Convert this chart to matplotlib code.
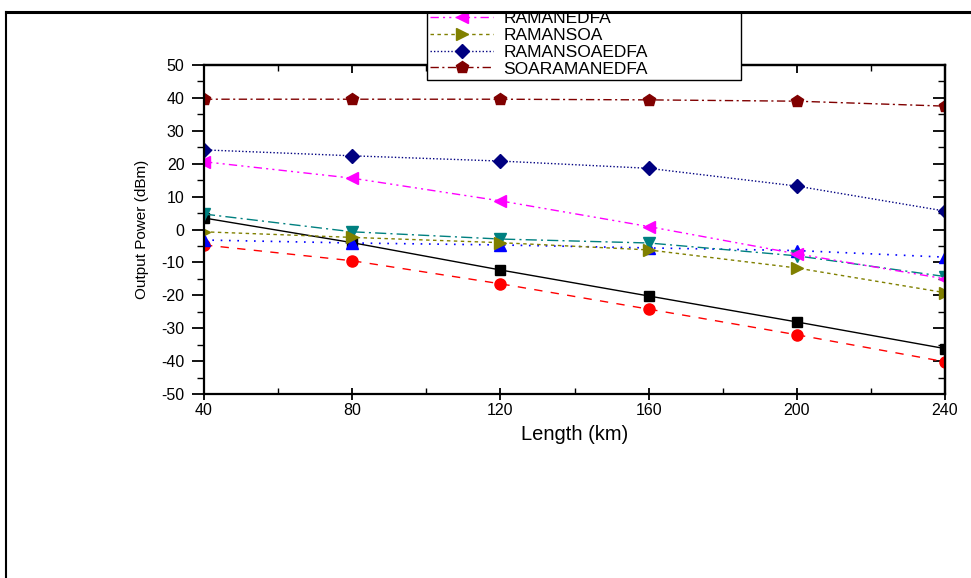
import matplotlib
matplotlib.use("Agg")
import matplotlib.pyplot as plt
from matplotlib.lines import Line2D
from matplotlib.patches import Rectangle
from matplotlib.ticker import MultipleLocator

plt.rcParams['font.family'] = ['Liberation Sans', 'DejaVu Sans']
plt.rcParams['axes.unicode_minus'] = False

length_km = [40, 80, 120, 160, 200, 240]

black_sq = [3.5, -4.0, -12.3, -20.2, -28.1, -36.2]
red_circ = [-4.7, -9.5, -16.5, -24.2, -32.0, -40.2]
blue_up = [-3.2, -4.1, -4.7, -5.6, -6.4, -8.4]
teal_down = [4.7, -0.7, -2.9, -4.1, -8.0, -14.3]
ramanedfa = [20.6, 15.6, 8.7, 0.9, -7.4, -15.0]
ramansoa = [-0.7, -2.4, -4.0, -6.2, -11.7, -19.2]
ramansoaedfa = [24.2, 22.4, 20.8, 18.6, 13.2, 5.6]
soaramanedfa = [39.6, 39.6, 39.6, 39.4, 39.0, 37.5]

legend_labels = ["RAMANEDFA", "RAMANSOA", "RAMANSOAEDFA", "SOARAMANEDFA"]

fig = plt.figure(figsize=(9.71, 5.78), dpi=100)
ax = fig.add_axes([204/971, 1-394/578, 741/971, 329/578])

ms = 8
ax.plot(length_km, black_sq, color='black', ls='-', lw=1.0, marker='s', ms=7, mec='black')
ax.plot(length_km, red_circ, color='red', ls=(0, (6, 6)), lw=1.0, marker='o', ms=ms)
ax.plot(length_km, blue_up, color='blue', ls=(0, (1, 4)), lw=1.2, marker='^', ms=ms)
ax.plot(length_km, teal_down, color='#008080', ls=(0, (8, 3, 1.5, 3)), lw=1.0, marker='v', ms=ms)
l1, = ax.plot(length_km, ramanedfa, color='magenta', ls=(0, (6, 3, 1.5, 3, 1.5, 3)), lw=1.0, marker='<', ms=ms, label=legend_labels[0])
l2, = ax.plot(length_km, ramansoa, color='#808000', ls=(0, (2.5, 2.5)), lw=1.0, marker='>', ms=ms, label=legend_labels[1])
l3, = ax.plot(length_km, ramansoaedfa, color='#000080', ls=(0, (1, 1.5)), lw=1.0, marker='D', ms=7, label=legend_labels[2])
l4, = ax.plot(length_km, soaramanedfa, color='#800000', ls=(0, (6, 2.5, 1.5, 2.5)), lw=1.0, marker='p', ms=9, label=legend_labels[3])

ax.set_xlim(40, 240)
ax.set_ylim(-50, 50)
ax.xaxis.set_major_locator(MultipleLocator(40))
ax.xaxis.set_minor_locator(MultipleLocator(20))
ax.yaxis.set_major_locator(MultipleLocator(10))
ax.yaxis.set_minor_locator(MultipleLocator(5))

for s in ax.spines.values():
    s.set_linewidth(1.6)

ax.tick_params(axis='both', which='major', labelsize=11.5, width=1.3)
ax.tick_params(axis='both', which='minor', width=1.0)
ax.tick_params(axis='y', which='major', direction='out', length=9, pad=5, left=True, right=False)
ax.tick_params(axis='y', which='minor', direction='out', length=5, left=True, right=False)
ax.tick_params(axis='x', which='major', direction='inout', length=9, pad=2, top=False)
ax.tick_params(axis='x', which='minor', direction='in', length=4, top=False)

secx = ax.secondary_xaxis('top')
secx.xaxis.set_major_locator(MultipleLocator(40))
secx.xaxis.set_minor_locator(MultipleLocator(20))
secx.tick_params(which='major', direction='in', length=6, labeltop=False, width=1.3)
secx.tick_params(which='minor', direction='in', length=4, width=1.0)
secx.spines['top'].set_linewidth(1.6)
secy = ax.secondary_yaxis('right')
secy.yaxis.set_major_locator(MultipleLocator(10))
secy.yaxis.set_minor_locator(MultipleLocator(5))
secy.tick_params(which='major', direction='in', length=9, labelright=False, width=1.3)
secy.tick_params(which='minor', direction='in', length=5, width=1.0)
secy.spines['right'].set_linewidth(1.6)

ax.set_xlabel("Length (km)", fontsize=14.5, labelpad=5)
ax.set_ylabel("Output Power (dBm)", fontsize=11, labelpad=9)

leg = fig.legend(handles=[l1, l2, l3, l4], loc='lower left',
                 bbox_to_anchor=(427/971, 1-80/578, 314/971, 0), bbox_transform=fig.transFigure,
                 mode='expand', borderaxespad=0, fontsize=12.5, frameon=True, fancybox=False,
                 edgecolor='black', framealpha=1, handlelength=3.6, labelspacing=0.1,
                 borderpad=0.2, handletextpad=0.6)
leg.get_frame().set_linewidth(1.0)

fig.add_artist(Rectangle((0, 1-11.5/578), 1, 11.5/578, transform=fig.transFigure,
                         facecolor='white', edgecolor='none', zorder=50))
fig.add_artist(Line2D([6/971, 1], [1-11.5/578, 1-11.5/578], transform=fig.transFigure,
                      color='black', lw=2.2, zorder=51))
fig.add_artist(Line2D([6/971, 6/971], [0, 1-11.5/578], transform=fig.transFigure,
                      color='black', lw=1.5, zorder=51))

fig.savefig("out.png", dpi=100)
